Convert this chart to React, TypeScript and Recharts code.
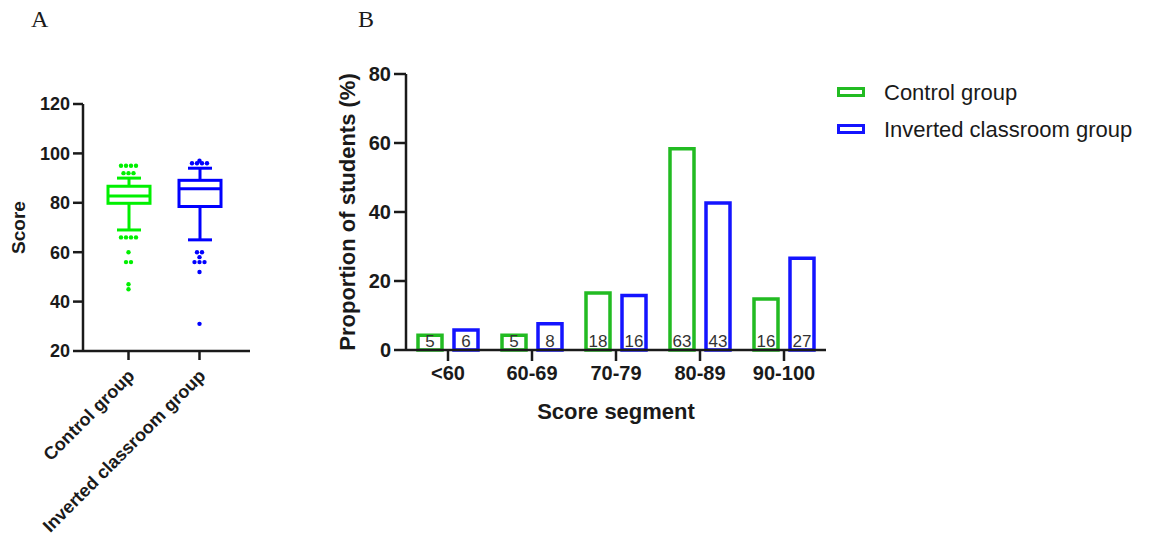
import React from 'react';
import { ComposedChart, BarChart, Bar, Scatter, XAxis, YAxis, LabelList } from 'recharts';

// Panel A: box plot of scores
const groups = ['Control group', 'Inverted classroom group'];
const whiskerLow = [69, 65];
const q1 = [79.8, 78.5];
const median = [82.8, 85.7];
const q3 = [86.7, 89.1];
const whiskerHigh = [90, 94];
const controlOutliers = [95, 95, 95, 95, 92, 92, 92, 66, 66, 66, 66, 60, 56, 56, 47, 45];
const invertedOutliers = [97, 96, 96, 96, 96, 60, 60, 58, 56, 56, 56, 52, 31];
const scoreTicks = [20, 40, 60, 80, 100, 120];

// Panel B: score segments
const segments = ['<60', '60-69', '70-79', '80-89', '90-100'];
const controlPct = [4.3, 4.3, 16.5, 58.3, 14.8];
const invertedPct = [5.8, 7.6, 15.8, 42.6, 26.6];
const controlCount = [5, 5, 18, 63, 16];
const invertedCount = [6, 8, 16, 43, 27];
const pctTicks = [0, 20, 40, 60, 80];

const FONT = '"Liberation Sans", Arial, sans-serif';
const INK = '#1a1a1a';
const BOX_COLORS: { [key: string]: string } = {
  'Control group': '#00f000',
  'Inverted classroom group': '#0000ff',
};
const BAR_GREEN = '#22bb22';
const BAR_BLUE = '#1414ff';

const boxRows = groups.map((g, i) => ({
  group: g,
  whiskerLow: whiskerLow[i],
  q1: q1[i],
  median: median[i],
  q3: q3[i],
  whiskerHigh: whiskerHigh[i],
}));

// repeated values are spread sideways, like a prism scatter
const spread = (vals: number[], group: string) => {
  const seen: { [k: number]: number } = {};
  return vals.map((v) => {
    const n = vals.filter((w) => w === v).length;
    seen[v] = (seen[v] ?? -1) + 1;
    return { group, score: v, slot: seen[v] - (n - 1) / 2 };
  });
};
const outlierRows = [...spread(controlOutliers, groups[0]), ...spread(invertedOutliers, groups[1])];

const segmentRows = segments.map((s, i) => ({
  segment: s,
  control: controlPct[i],
  inverted: invertedPct[i],
  controlN: controlCount[i],
  invertedN: invertedCount[i],
}));

const BoxShape = (props: any) => {
  const { x, y, width, height, payload } = props;
  const color = BOX_COLORS[payload.group];
  const top = Math.min(y, y + height);
  const bottom = Math.max(y, y + height);
  const lo = payload.whiskerLow;
  const hi = payload.whiskerHigh;
  const py = (v: number) => bottom - ((v - lo) / (hi - lo)) * (bottom - top);
  const cx = x + width / 2;
  const cap = 12;
  return (
    <g stroke={color} strokeWidth={3} fill="none">
      <line x1={cx} x2={cx} y1={py(hi)} y2={py(payload.q3)} />
      <line x1={cx} x2={cx} y1={py(payload.q1)} y2={py(lo)} />
      <line x1={cx - cap} x2={cx + cap} y1={py(hi)} y2={py(hi)} />
      <line x1={cx - cap} x2={cx + cap} y1={py(lo)} y2={py(lo)} />
      <rect x={x} y={py(payload.q3)} width={width} height={py(payload.q1) - py(payload.q3)} fill="#fff" />
      <line x1={x} x2={x + width} y1={py(payload.median)} y2={py(payload.median)} />
    </g>
  );
};

const OutlierDot = (props: any) => {
  const { cx, cy, payload } = props;
  return <circle cx={cx + payload.slot * 5} cy={cy} r={2.2} fill={BOX_COLORS[payload.group]} />;
};

const GroupTick = ({ x, y, payload }: any) => {
  const px = x + 7;
  const py = y + 15;
  return (
    <text x={px} y={py} transform={`rotate(-45, ${px}, ${py})`} textAnchor="end"
      fontSize={18} fontWeight="bold" fill={INK} fontFamily={FONT}>
      {payload.value}
    </text>
  );
};

const CountLabel = (props: any) => {
  const { x, y, width, height, value } = props;
  return (
    <text x={x + width / 2} y={y + height - 9} textAnchor="middle" dominantBaseline="central"
      fontSize={17} fill="#333" fontFamily={FONT}>
      {value}
    </text>
  );
};

const legendItems = [
  { name: 'Control group', color: BAR_GREEN },
  { name: 'Inverted classroom group', color: BAR_BLUE },
];

const LegendBox = () => (
  <div style={{ fontFamily: FONT }}>
    {legendItems.map((item) => (
      <div key={item.name} style={{ display: 'flex', alignItems: 'center', height: 37 }}>
        <svg width={30} height={12} style={{ marginRight: 17 }}>
          <rect x={1.5} y={1.5} width={25} height={7} fill="#fff" stroke={item.color} strokeWidth={3} />
        </svg>
        <span style={{ fontSize: 22, color: INK, whiteSpace: 'nowrap' }}>{item.name}</span>
      </div>
    ))}
  </div>
);

const axisLine = { stroke: INK, strokeWidth: 2.5 };

export default function App() {
  return (
    <div style={{ position: 'absolute', left: 0, top: 0, width: 1150, height: 544, background: '#fff', overflow: 'hidden' }}>
      <div style={{ position: 'absolute', left: 31, top: 6, fontFamily: '"Liberation Serif", serif', fontSize: 24, color: INK }}>A</div>
      <div style={{ position: 'absolute', left: 358, top: 6, fontFamily: '"Liberation Serif", serif', fontSize: 24, color: INK }}>B</div>

      <div style={{ position: 'absolute', left: 0, top: 0 }}>
        <ComposedChart width={300} height={544} data={boxRows} margin={{ top: 104, right: 50, bottom: 0, left: 13 }}>
          <XAxis
            dataKey="group"
            type="category"
            allowDuplicatedCategory={false}
            padding={{ left: 10, right: 15 }}
            height={193}
            tickSize={9}
            axisLine={axisLine}
            tickLine={axisLine}
            tick={<GroupTick />}
            interval={0}
          />
          <YAxis
            type="number"
            domain={[20, 120]}
            ticks={scoreTicks}
            width={70}
            tickSize={10}
            tickMargin={3}
            axisLine={axisLine}
            tickLine={axisLine}
            tick={{ fontSize: 18, fontWeight: 'bold', fill: INK, fontFamily: FONT }}
            label={{
              content: (p: any) => {
                const vb = p.viewBox;
                const lx = vb.x + 5;
                const ly = vb.y + vb.height / 2;
                return (
                  <text x={lx} y={ly} transform={`rotate(-90, ${lx}, ${ly})`} textAnchor="middle"
                    dominantBaseline="central" fontSize={19} fontWeight="bold" fill={INK} fontFamily={FONT}>
                    Score
                  </text>
                );
              },
            }}
          />
          <Bar dataKey={(d: any) => [d.whiskerLow, d.whiskerHigh]} barSize={42} shape={BoxShape} isAnimationActive={false} />
          <Scatter data={outlierRows} dataKey="score" shape={OutlierDot} isAnimationActive={false} />
        </ComposedChart>
      </div>

      <div style={{ position: 'absolute', left: 300, top: 0 }}>
        <BarChart width={850} height={544} data={segmentRows} barSize={24} barGap={12}
          margin={{ top: 74, right: 324, bottom: 0, left: 46 }}>
          <XAxis
            dataKey="segment"
            height={194}
            tickSize={11}
            tickMargin={5}
            axisLine={axisLine}
            tickLine={axisLine}
            tick={{ fontSize: 20, fontWeight: 'bold', fill: INK, fontFamily: FONT }}
            interval={0}
            label={{
              content: (p: any) => {
                const vb = p.viewBox;
                return (
                  <text x={vb.x + vb.width / 2} y={vb.y + 61} textAnchor="middle" dominantBaseline="central"
                    fontSize={22} fontWeight="bold" fill={INK} fontFamily={FONT}>
                    Score segment
                  </text>
                );
              },
            }}
          />
          <YAxis
            domain={[0, 80]}
            ticks={pctTicks}
            width={60}
            tickSize={12}
            tickMargin={3}
            axisLine={axisLine}
            tickLine={axisLine}
            tick={{ fontSize: 20, fontWeight: 'bold', fill: INK, fontFamily: FONT }}
            label={{
              content: (p: any) => {
                const vb = p.viewBox;
                const lx = vb.x + 1;
                const ly = vb.y + vb.height / 2;
                return (
                  <text x={lx} y={ly} transform={`rotate(-90, ${lx}, ${ly})`} textAnchor="middle"
                    dominantBaseline="central" fontSize={22} fontWeight="bold" fill={INK} fontFamily={FONT}>
                    Proportion of students (%)
                  </text>
                );
              },
            }}
          />
          <Bar dataKey="control" name="Control group" fill="#fff" stroke={BAR_GREEN} strokeWidth={3.5} isAnimationActive={false}>
            <LabelList dataKey="controlN" content={CountLabel} />
          </Bar>
          <Bar dataKey="inverted" name="Inverted classroom group" fill="#fff" stroke={BAR_BLUE} strokeWidth={3.5} isAnimationActive={false}>
            <LabelList dataKey="invertedN" content={CountLabel} />
          </Bar>
        </BarChart>
      </div>

      <div style={{ position: 'absolute', left: 837, top: 74 }}>
        <LegendBox />
      </div>
    </div>
  );
}
